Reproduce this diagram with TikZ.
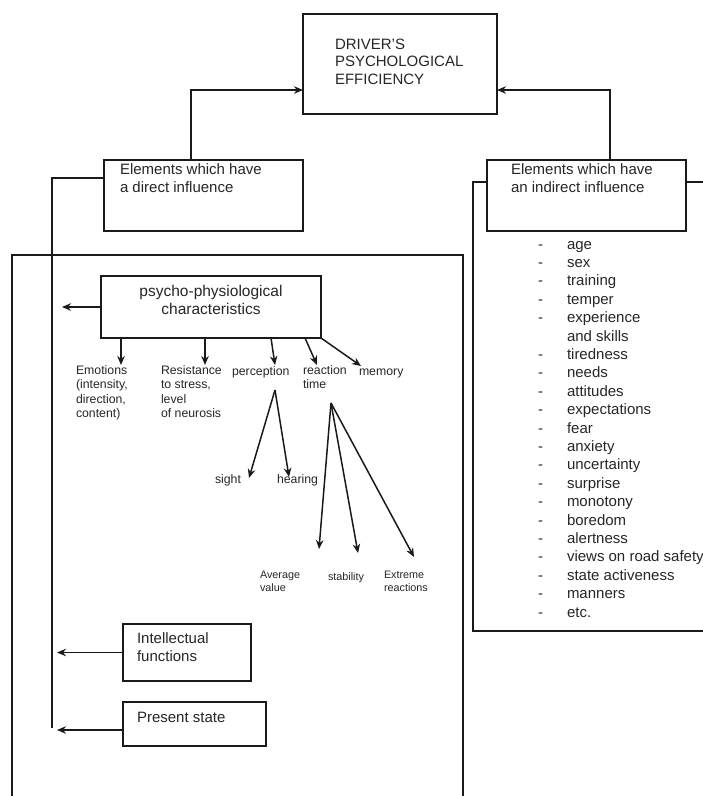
\documentclass[tikz,border=0pt]{standalone}
\usepackage{fontspec}
\setmainfont{Liberation Sans}
\usetikzlibrary{arrows.meta}
\definecolor{ink}{HTML}{1A1A1A}
\definecolor{txt}{HTML}{262626}
\tikzset{
  frame/.style={draw=ink, line width=1.3pt},
  box/.style={draw=ink, line width=1.4pt, fill=white, inner sep=0pt, outer sep=0pt, anchor=north west},
  link/.style={draw=ink, line width=1.5pt},
  arr/.style={link, -{Stealth[length=9pt,width=7.5pt]}},
  lbl/.style={text=txt, inner sep=0pt, outer sep=0pt, anchor=north west, align=left, execute at begin node=\strut},
  fbig/.style={font=\fontsize{15}{17.5}\selectfont},
  fpsy/.style={font=\fontsize{15.5}{18}\selectfont},
  fmid/.style={font=\fontsize{12.3}{14.5}\selectfont},
  fsmall/.style={font=\fontsize{10.8}{13.3}\selectfont},
  fbox/.style={font=\fontsize{15}{18.5}\selectfont},
  item/.style={text=txt, inner sep=0pt, outer sep=0pt, anchor=base west, font=\fontsize{15}{18.4}\selectfont},
}
\begin{document}
\begin{tikzpicture}[x=1pt,y=-1pt]
\useasboundingbox (0,0) rectangle (703,796);
\clip (0,0) rectangle (703,796);

% outer frames of the two groups
\draw[frame] (12,255) rectangle (463,812);
\draw[frame] (473,182) rectangle (720,631);

% main boxes
\node[box, minimum width=194pt, minimum height=100pt] (top) at (303,14) {};
\node[box, minimum width=199pt, minimum height=71pt] (direct) at (104,160) {};
\node[box, minimum width=199pt, minimum height=71pt] (indirect) at (487,160) {};
\node[box, minimum width=220pt, minimum height=62pt] (psy) at (101,276) {};
\node[box, minimum width=128pt, minimum height=57pt] (intel) at (123,624) {};
\node[box, minimum width=143pt, minimum height=44pt] (pres) at (123,702) {};

% box texts
\node[lbl, fbig] (topT) at (335,39) {DRIVER'S\\PSYCHOLOGICAL\\EFFICIENCY};
\node[lbl, fbig] (directT) at (120,164) {Elements which have\\a direct influence};
\node[lbl, fbig] (indirectT) at (511,164) {Elements which have\\an indirect influence};
\node[lbl, fpsy, anchor=north, align=center] (psyT) at (211,285) {psycho-physiological\\characteristics};
\node[lbl, fbox] (intelT) at (137,632.5) {Intellectual\\functions};
\node[lbl, fbox] (presT) at (137,709.5) {Present state};

% links to the top box
\draw[arr] (direct.north -| 191,0) |- ([yshift=-26pt]top.west);
\draw[arr] (indirect.north -| 610,0) |- ([yshift=-26pt]top.east);

% spine of the direct group
\coordinate (spineEnd) at (52,728);
\draw[link] ([yshift=17.5pt]direct.west) -| (spineEnd);
\coordinate (lPsy) at (62,307);
\coordinate (lInt) at (57,652.5);
\coordinate (lPre) at (57,730);
\draw[arr] (psy.west) -- (lPsy);
\draw[arr] (intel.west) -- (lInt);
\draw[arr] ([yshift=-6pt]pres.west) -- (lPre);

% characteristics
\node[lbl, fmid] (emo) at (76,365.5) {Emotions\\(intensity,\\direction,\\content)};
\node[lbl, fmid] (res) at (161,365.5) {Resistance\\to stress,\\level\\of neurosis};
\node[lbl, fmid] (per) at (232,365.5) {perception};
\node[lbl, fmid] (rea) at (303,365.5) {reaction\\time};
\node[lbl, fmid] (mem) at (359,365.5) {memory};

\coordinate (tEmo) at (121,365);
\coordinate (tRes) at (205,365);
\coordinate (tPer) at (275,365);
\coordinate (tRea) at (317,365);
\coordinate (tMem) at (361,366);
\draw[arr] (psy.south -| 121,0) -- (tEmo);
\draw[arr] (psy.south -| 205,0) -- (tRes);
\draw[arr] (psy.south -| 271,0) -- (tPer);
\draw[arr] (psy.south -| 305,0) -- (tRea);
\draw[arr] (psy.south east) -- (tMem);

% perception
\node[lbl, fmid] (sight) at (215,473.5) {sight};
\node[lbl, fmid] (hear) at (277,473.5) {hearing};
\coordinate (perApex) at (275,390);
\coordinate (tSight) at (249,478);
\coordinate (tHear) at (289,477);
\draw[arr] (perApex) -- (tSight);
\draw[arr] (perApex) -- (tHear);

% reaction time
\node[lbl, fsmall] (avg) at (260,571) {Average\\value};
\node[lbl, fsmall] (stab) at (328,571) {stability};
\node[lbl, fsmall] (ext) at (384,571) {Extreme\\reactions};
\coordinate (reaApex) at (331,403);
\coordinate (tAvg) at (319,549);
\coordinate (tStab) at (358,553);
\coordinate (tExt) at (414,557);
\draw[arr] (reaApex) -- (tAvg);
\draw[arr] (reaApex) -- (tStab);
\draw[arr] (reaApex) -- (tExt);

% indirect elements
\foreach \w [count=\i from 0] in {age,sex,training,temper,experience,and skills,tiredness,needs,attitudes,expectations,fear,anxiety,uncertainty,surprise,monotony,boredom,alertness,views on road safety,state activeness,manners,etc.}
  \node[item] (it\i) at (567,{249+18.4*\i}) {\w};
\foreach \i in {0,1,2,3,4,6,7,8,9,10,11,12,13,14,15,16,17,18,19,20}
  \node[item] (d\i) at (538,{249+18.4*\i}) {-};
\end{tikzpicture}
\end{document}
